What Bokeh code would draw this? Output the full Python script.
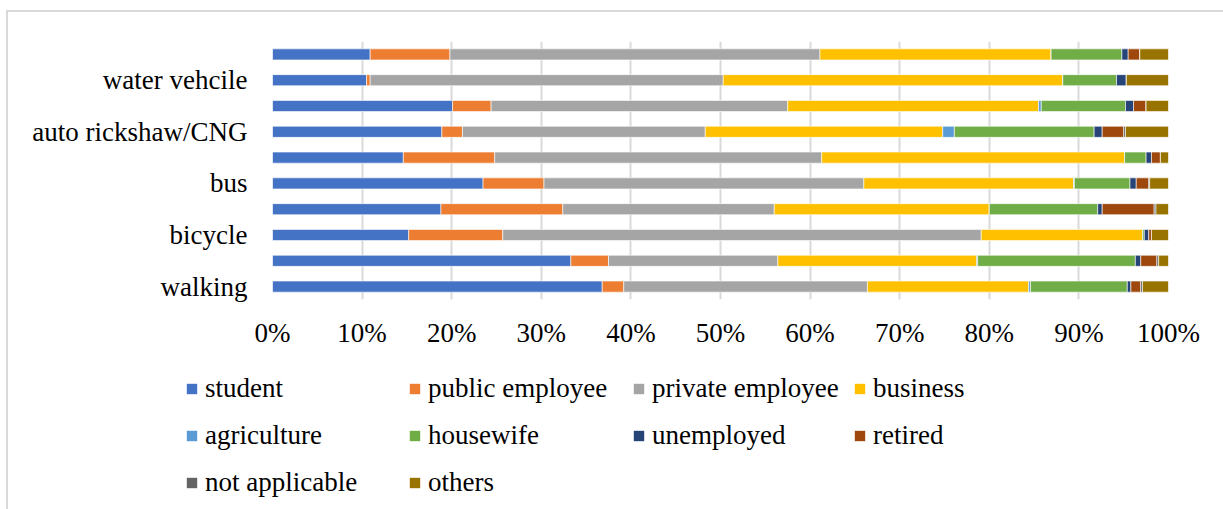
from bokeh.plotting import figure
from bokeh.layouts import column
from bokeh.models import (ColumnDataSource, FixedTicker, PrintfTickFormatter, Legend,
                          LegendItem)
from bokeh.embed import file_html
from bokeh.resources import INLINE

# categories from bottom to top (only every other one is labelled in the source chart)
categories = ["walking", "", "bicycle", "", "bus", "", "auto rickshaw/CNG", "", "water vehcile", ""]

series = ["student", "public employee", "private employee", "business", "agriculture",
          "housewife", "unemployed", "retired", "not applicable", "others"]
colors = ["#4472C4", "#ED7D31", "#A5A5A5", "#FFC000", "#5B9BD5",
          "#70AD47", "#264478", "#9E480E", "#636363", "#997300"]

# percentage values per category (bottom to top)
student          = [36.8, 33.3, 15.2, 18.8, 23.5, 14.6, 18.9, 20.1, 10.5, 10.9]
public_employee  = [2.4, 4.2, 10.5, 13.6, 6.8, 10.2, 2.3, 4.3, 0.4, 8.9]
private_employee = [27.2, 18.9, 53.4, 23.6, 35.7, 36.5, 27.1, 33.1, 39.4, 41.3]
business         = [18.0, 22.2, 18.0, 24.0, 23.4, 33.8, 26.5, 28.0, 37.9, 25.8]
agriculture      = [0.2, 0.1, 0.0, 0.0, 0.1, 0.0, 1.3, 0.3, 0.0, 0.0]
housewife        = [10.8, 17.6, 0.2, 12.1, 6.2, 2.4, 15.6, 9.4, 6.0, 7.9]
unemployed       = [0.4, 0.6, 0.5, 0.5, 0.7, 0.6, 0.9, 0.9, 1.1, 0.7]
retired          = [1.1, 1.8, 0.3, 5.8, 1.4, 1.0, 2.4, 1.4, 0.0, 1.3]
not_applicable   = [0.2, 0.2, 0.0, 0.2, 0.1, 0.0, 0.2, 0.0, 0.0, 0.0]
others           = [2.9, 1.1, 1.9, 1.4, 2.1, 0.9, 4.8, 2.5, 4.7, 3.2]

values = [student, public_employee, private_employee, business, agriculture,
          housewife, unemployed, retired, not_applicable, others]

FONT = "Liberation Serif"
FS = "27px"

p = figure(width=1215, height=343, output_backend="svg", toolbar_location=None,
           x_range=(0, 100), y_range=(0.5, len(categories) + 0.5),
           min_border_left=264, min_border_right=55, min_border_top=29, min_border_bottom=56)
p.outline_line_color = None

ypos = list(range(1, len(categories) + 1))
totals = [sum(v[i] for v in values) for i in range(len(categories))]
left = [0.0] * len(categories)
for name, col, vals in zip(series, colors, values):
    norm = [v / t * 100 for v, t in zip(vals, totals)]
    right = [l + n for l, n in zip(left, norm)]
    src = ColumnDataSource(dict(y=ypos, left=left, right=right))
    p.hbar(y="y", left="left", right="right", height=0.43, source=src,
           fill_color=col, line_color="white", line_width=0.6)
    left = right

# axes
p.xaxis.ticker = FixedTicker(ticks=list(range(0, 101, 10)))
p.xaxis.formatter = PrintfTickFormatter(format="%d%%")
p.yaxis.ticker = FixedTicker(ticks=[i + 1 for i, c in enumerate(categories) if c])
p.yaxis.major_label_overrides = {i + 1: c for i, c in enumerate(categories) if c}
for ax in (p.xaxis[0], p.yaxis[0]):
    ax.axis_line_color = None
    ax.major_tick_line_color = None
    ax.minor_tick_line_color = None
    ax.major_label_text_font = FONT
    ax.major_label_text_font_size = FS
    ax.major_label_text_color = "#000000"
p.xaxis.major_label_standoff = 12
p.yaxis.major_label_standoff = 19

p.xgrid.ticker = FixedTicker(ticks=list(range(0, 101, 10)))
p.xgrid.grid_line_color = "#d9d9d9"
p.xgrid.grid_line_width = 2
p.ygrid.grid_line_color = None

# legend in its own strip below the chart, four equal-width columns
p2 = figure(width=1215, height=154, output_backend="svg", toolbar_location=None,
            x_axis_type=None, y_axis_type=None, x_range=(0, 1), y_range=(0, 1),
            min_border=0)
p2.frame_align = False
p2.outline_line_color = None
p2.grid.grid_line_color = None
items = []
for name, col in zip(series, colors):
    # off-range dummy bar: only its legend swatch is visible
    r = p2.hbar(y=[5], left=[5], right=[6], height=0.5, fill_color=col, line_color=None)
    items.append(LegendItem(label=name, renderers=[r]))

col_x = [177, 400, 624, 845]
for k, x in enumerate(col_x):
    its = items[k::4]
    y0 = 11 + 47 * (3 - len(its))
    lg = Legend(items=its, orientation="vertical", location=(x, y0),
                glyph_width=13, glyph_height=13, label_standoff=7, spacing=16,
                label_text_font=FONT, label_text_font_size=FS,
                label_text_color="#000000", padding=0, margin=0,
                border_line_color=None, background_fill_alpha=0)
    p2.add_layout(lg, "center")

layout = column(p, p2, spacing=0, margin=(10, 0, 0, 6),
                styles={"border-top": "2px solid #d9d9d9", "border-left": "2px solid #d9d9d9"})

open("out.html", "w").write(file_html(layout, INLINE))
